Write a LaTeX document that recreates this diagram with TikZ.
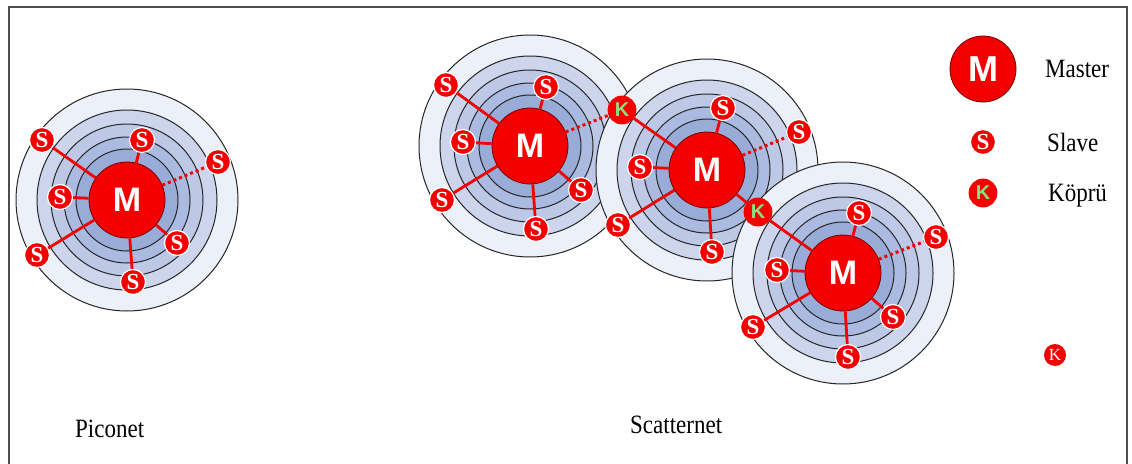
\documentclass[tikz,border=0pt]{standalone}
\usepackage{fontspec}
\setmainfont{Liberation Serif}
\newfontfamily\msans{Liberation Sans}

\definecolor{ringA}{HTML}{ECF0F9}
\definecolor{ringB}{HTML}{CCD5EC}
\definecolor{ringC}{HTML}{BCC8E6}
\definecolor{ringD}{HTML}{ABBAE0}
\definecolor{ringE}{HTML}{99ACD8}
\definecolor{mred}{HTML}{F50000}
\definecolor{kgreen}{HTML}{86E486}

\tikzset{
  ringline/.style={draw=black!85, line width=1pt},
  master/.style={circle, fill=mred, draw=black!55!red, line width=0.8pt,
    minimum size=76pt, inner sep=0pt, text=white,
    font=\msans\bfseries\fontsize{34}{34}\selectfont},
  slave/.style={circle, fill=mred, draw=white, line width=1.2pt,
    minimum size=25pt, inner sep=0pt, text=white,
    font=\bfseries\fontsize{23}{23}\selectfont},
  bridge/.style={circle, fill=mred, draw=mred, line width=0.8pt,
    minimum size=28pt, inner sep=0pt, text=kgreen,
    font=\msans\bfseries\fontsize{20}{20}\selectfont},
  link/.style={draw=mred, line width=2.8pt},
  weak/.style={draw=mred, line width=3pt, dash pattern=on 3pt off 3pt},
  label/.style={anchor=base west, inner sep=0pt,
    font=\fontsize{23}{23}\selectfont},
}

% concentric range rings around a master position
\newcommand\ringset[1]{%
  \fill[ringA] (#1) circle (111pt);
  \fill[ringB] (#1) circle (90pt);
  \fill[ringC] (#1) circle (76pt);
  \fill[ringD] (#1) circle (63pt);
  \fill[ringE] (#1) circle (51pt);
  \foreach \r in {111,90,76,63,51} \draw[ringline] (#1) circle (\r pt);
}
\newcommand\tallword[1]{\scalebox{1}[1.15]{#1}}

\begin{document}
\begin{tikzpicture}[x=1pt, y=-1pt]
  \useasboundingbox (0,0) rectangle (1132,463);
  \fill[white] (0,0) rectangle (1132,463);
  \draw[draw=black!70, line width=1.5pt] (9,7) rectangle (1127,480);

  % master positions
  \coordinate (c0) at (127,200);
  \coordinate (c1) at (530,146);
  \coordinate (c2) at (707,170);
  \coordinate (c3) at (843,273);

  \ringset{c0}
  \ringset{c1}
  \ringset{c2}
  \ringset{c3}

  % piconet
  \node[master] (m0) at (c0) {M};
  \node[slave] (p1) at (42,140) {S};
  \node[slave] (p2) at (142,140) {S};
  \node[slave] (p3) at (218,162) {S};
  \node[slave] (p4) at (60,197) {S};
  \node[slave] (p5) at (37,255) {S};
  \node[slave] (p6) at (177,243) {S};
  \node[slave] (p7) at (133,282) {S};
  \foreach \s in {p1,p2,p4,p5,p6,p7} \draw[link] (m0) -- (\s);
  \draw[weak] (m0) -- (p3);

  % scatternet, first piconet
  \node[master] (m1) at (c1) {M};
  \node[slave] (a1) at (446,85) {S};
  \node[slave] (a2) at (546,87) {S};
  \node[slave] (a3) at (463,142) {S};
  \node[slave] (a4) at (442,200) {S};
  \node[slave] (a5) at (581,190) {S};
  \node[slave] (a6) at (536,229) {S};

  % second piconet
  \node[master] (m2) at (c2) {M};
  \node[slave] (b1) at (723,108) {S};
  \node[slave] (b2) at (799,132) {S};
  \node[slave] (b3) at (640,167) {S};
  \node[slave] (b4) at (618,225) {S};
  \node[slave] (b5) at (712,252) {S};

  % third piconet
  \node[master] (m3) at (c3) {M};
  \node[slave] (d1) at (859,213) {S};
  \node[slave] (d2) at (936,237) {S};
  \node[slave] (d3) at (777,270) {S};
  \node[slave] (d4) at (753,327) {S};
  \node[slave] (d5) at (893,317) {S};
  \node[slave] (d6) at (848,357) {S};

  % bridges
  \node[bridge] (k1) at (622,110) {K};
  \node[bridge] (k2) at (758,212) {K};

  \foreach \s in {a1,a2,a3,a4,a5,a6} \draw[link] (m1) -- (\s);
  \foreach \s in {b1,b3,b4,b5,k1,k2} \draw[link] (m2) -- (\s);
  \foreach \s in {d1,d3,d4,d5,d6,k2} \draw[link] (m3) -- (\s);
  \draw[weak] (m1) -- (k1);
  \draw[weak] (m2) -- (b2);
  \draw[weak] (m3) -- (d2);

  % legend
  \node[master, minimum size=66pt, font=\msans\bfseries\fontsize{36}{36}\selectfont] (lm) at (983,69) {M};
  \node[slave] (ls) at (983,142) {S};
  \node[bridge] (lk) at (983,193) {K};
  \node[label] (tm) at (1045,77) {\tallword{Master}};
  \node[label] (ts) at (1047,151) {\tallword{Slave}};
  \node[label] (tk) at (1048,201) {\tallword{Köprü}};
  \node[circle, fill=mred, minimum size=22pt, inner sep=0pt, text=white,
        font=\fontsize{17}{17}\selectfont] (lk2) at (1055,355) {K};

  % captions
  \node[label] (tp) at (75,437) {\tallword{Piconet}};
  \node[label] (tsn) at (630,433) {\tallword{Scatternet}};
\end{tikzpicture}
\end{document}
